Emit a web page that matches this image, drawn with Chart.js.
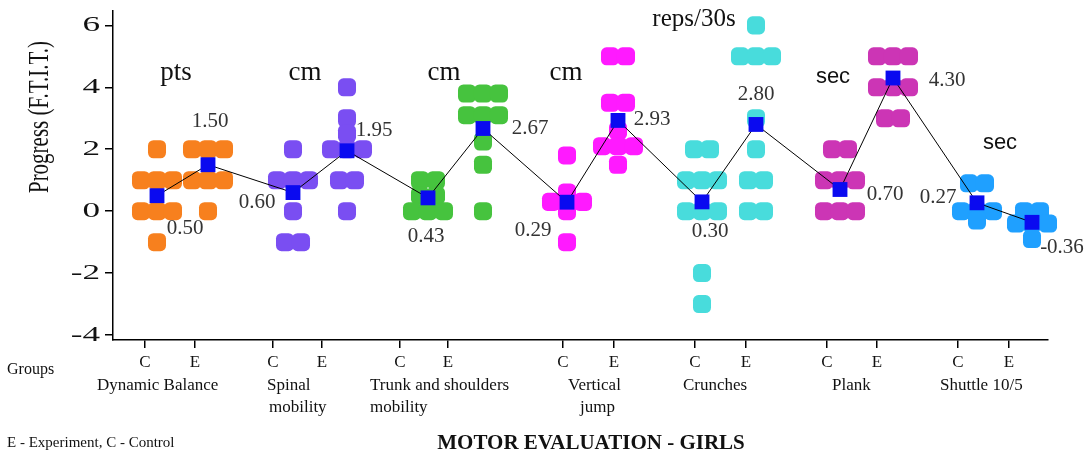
<!DOCTYPE html>
<html lang="en">
<head>
  <meta charset="UTF-8">
  <title>Motor Evaluation - Girls</title>
  <script src="https://cdn.jsdelivr.net/npm/chart.js"></script>
  <style>
    html, body { margin: 0; padding: 0; background: #fff; }
  </style>
</head>
<body>
  <canvas id="motorChart" width="1086" height="457"></canvas>

  <script>
    // Tests and their units
    const groupNames = [['Dynamic Balance'], ['Spinal', 'mobility'], ['Trunk and shoulders', 'mobility'],
                        ['Vertical', 'jump'], ['Crunches'], ['Plank'], ['Shuttle 10/5']];
    const groupUnits = ['pts', 'cm', 'cm', 'cm', 'reps/30s', 'sec', 'sec'];

    // Individual progress values (F.T.I.T.), control groups
    const ctrlScores = [
      [2, 1, 1, 1, 0, 0, 0, -1],
      [2, 1, 1, 1, 0, -1, -1],
      [1, 1, 0.5, 0.5, 0, 0, 0],
      [1.8, 0.6, 0.3, 0.3, 0.3, 0, -1],
      [2, 2, 1, 1, 1, 0, 0, 0, -2, -3],
      [2, 2, 1, 1, 1, 0, 0, 0],
      [0.9, 0.9, 0, 0, 0, -0.3]
    ];
    // Individual progress values, experiment groups
    const expScores = [
      [2, 2, 2, 1, 1, 1, 0],
      [4, 3, 2.5, 2, 2, 2, 1, 1, 0],
      [3.8, 3.8, 3.8, 3.1, 3.1, 3.1, 2.25, 1.5, 0],
      [5, 5, 3.5, 3.5, 2.6, 2.1, 2.1, 2.1, 1.5],
      [6, 5, 5, 5, 3, 2, 1, 1, 0, 0],
      [5, 5, 5, 4, 4, 4, 3, 3],
      [0, 0, -0.4, -0.4, -0.4, -0.9]
    ];
    const ctrlMeans = [0.50, 0.60, 0.43, 0.29, 0.30, 0.70, 0.27];
    const expMeans = [1.50, 1.95, 2.67, 2.93, 2.80, 4.30, -0.36];

    // x axis values of the C / E columns and of their ticks (the figure is not evenly spaced)
    const ctrlX = [0.88, 3.60, 6.30, 9.08, 11.78, 14.54, 17.28];
    const expX = [1.90, 4.68, 7.40, 10.10, 12.86, 15.60, 18.38];
    const ctrlTickX = [0.64, 3.20, 5.74, 9.00, 11.64, 14.28, 16.90];
    const expTickX = [1.64, 4.18, 6.70, 10.02, 12.66, 15.28, 17.92];
    const yTickValues = [-4, -2, 0, 2, 4, 6];

    const groupColors = ['#f7801e', '#7a4ef2', '#46c33e', '#ff1aff', '#48dcdc', '#cc35b5', '#1fa0ff'];
    const SERIF = "'Liberation Serif', 'Times New Roman', serif";
    const DOT_STEP = 0.32; // horizontal step between dots sharing a value

    // spread dots with the same value side by side around the column
    function dotRow(values, x0) {
      const counts = {};
      values.forEach(v => { counts[v] = (counts[v] || 0) + 1; });
      const seen = {};
      return values.map(v => {
        const i = seen[v] = (seen[v] === undefined ? 0 : seen[v] + 1);
        return { x: x0 + (i - (counts[v] - 1) / 2) * DOT_STEP, y: v };
      });
    }

    const meanPoints = [];
    ctrlMeans.forEach((m, i) => {
      meanPoints.push({ x: ctrlX[i], y: m });
      meanPoints.push({ x: expX[i], y: expMeans[i] });
    });

    const dotSets = groupColors.map((col, i) => ({
      data: dotRow(ctrlScores[i], ctrlX[i]).concat(dotRow(expScores[i], expX[i])),
      backgroundColor: col,
      borderWidth: 0,
      pointStyle: 'rectRounded',
      pointRadius: 10.5,
      showLine: false,
      clip: false,
      order: 1
    }));

    function drawText(ctx, s, x, y, font, color, align, sx) {
      ctx.save();
      ctx.font = font;
      ctx.fillStyle = color;
      ctx.textAlign = align || 'left';
      ctx.textBaseline = 'middle';
      ctx.translate(x, y);
      ctx.scale(sx || 1, 1);
      ctx.fillText(s, 0, 0);
      ctx.restore();
    }

    // text around the plot: y tick labels, units, means, group names, captions
    const annotations = {
      id: 'annotations',
      afterDraw(chart) {
        const ctx = chart.ctx;
        const xs = chart.scales.x, ys = chart.scales.y;

        yTickValues.forEach(v => {
          drawText(ctx, String(v), 100, ys.getPixelForValue(v), '22px ' + SERIF, '#111', 'right', 1.6);
        });

        ctx.save();
        ctx.translate(40, 117);
        ctx.scale(1.4, 1);
        ctx.rotate(-Math.PI / 2);
        ctx.font = '21px ' + SERIF;
        ctx.fillStyle = '#111';
        ctx.textAlign = 'center';
        ctx.textBaseline = 'middle';
        ctx.fillText('Progress (F.T.I.T.)', 0, 0);
        ctx.restore();

        // units above each test
        const unitAt = [[1.26, 4.48], [3.84, 4.48], [6.62, 4.48], [9.06, 4.48], [11.62, 6.2], [14.40, 4.35], [17.74, 2.2]];
        groupUnits.forEach((u, i) => {
          const px = xs.getPixelForValue(unitAt[i][0]), py = ys.getPixelForValue(unitAt[i][1]);
          if (u === 'sec') drawText(ctx, u, px, py, "22px 'Liberation Sans', Arial, sans-serif", '#111', 'center');
          else drawText(ctx, u, px, py, (u === 'pts' || u === 'cm' ? '27px ' : '25px ') + SERIF, '#111', 'center');
        });

        // mean value labels
        const ctrlOff = [[28, 33], [-36, 10], [-2, 39], [-34, 28], [8, 30], [45, 5], [-39, -5]];
        const expOff = [[2, -43], [27, -20], [47, 0], [34, -1], [0, -30], [54, 2], [30, 25]];
        ctrlMeans.forEach((m, i) => {
          drawText(ctx, m.toFixed(2), xs.getPixelForValue(ctrlX[i]) + ctrlOff[i][0],
                   ys.getPixelForValue(m) + ctrlOff[i][1], '21px ' + SERIF, '#333', 'center');
          const e = expMeans[i];
          drawText(ctx, e.toFixed(2), xs.getPixelForValue(expX[i]) + expOff[i][0],
                   ys.getPixelForValue(e) + expOff[i][1], '21px ' + SERIF, '#333', 'center');
        });

        // group names under the axis
        const nameDx = [[-48], [-6, -4], [-30, -30], [5, 17], [-12], [5], [-18]];
        groupNames.forEach((lines, i) => {
          const base = xs.getPixelForValue(ctrlTickX[i]);
          lines.forEach((ln, j) => {
            drawText(ctx, ln, base + nameDx[i][j], 386 + j * 22, '17px ' + SERIF, '#111', 'left');
          });
        });

        drawText(ctx, 'Groups', 7, 370, '16px ' + SERIF, '#111', 'left');
        drawText(ctx, 'E - Experiment, C - Control', 7, 443, '15px ' + SERIF, '#111', 'left');
        drawText(ctx, 'MOTOR EVALUATION - GIRLS', 591, 444, 'bold 21px ' + SERIF, '#111', 'center');
      }
    };

    new Chart(document.getElementById('motorChart'), {
      type: 'scatter',
      data: {
        datasets: [{
          data: meanPoints,
          showLine: true,
          borderColor: '#000',
          borderWidth: 1,
          backgroundColor: '#0a0af0',
          pointBackgroundColor: '#0a0af0',
          pointBorderWidth: 0,
          pointStyle: 'rect',
          pointRadius: 10.5,
          clip: false,
          order: 0
        }].concat(dotSets)
      },
      options: {
        responsive: false,
        animation: false,
        layout: { padding: { left: 113, right: 38, top: 10, bottom: 0 } },
        plugins: { legend: { display: false }, tooltip: { enabled: false } },
        scales: {
          x: {
            type: 'linear',
            min: 0,
            max: 18.7,
            afterBuildTicks: s => {
              const t = [];
              ctrlTickX.forEach((v, i) => { t.push({ value: v }, { value: expTickX[i] }); });
              s.ticks = t;
            },
            afterFit: s => { s.height = 117; },
            border: { color: '#000', width: 1.5 },
            grid: { drawOnChartArea: false, drawTicks: true, tickLength: 8, color: '#000', lineWidth: 1.5 },
            ticks: {
              callback: (v, i) => (i % 2 ? 'E' : 'C'),
              autoSkip: false,
              maxRotation: 0,
              padding: 4,
              color: '#111',
              font: { family: SERIF, size: 17 }
            }
          },
          y: {
            min: -4.16,
            max: 6.48,
            afterBuildTicks: s => { s.ticks = yTickValues.map(v => ({ value: v })); },
            afterFit: s => { s.width = 0; },
            border: { color: '#000', width: 1.5 },
            grid: { drawOnChartArea: false, drawTicks: true, tickLength: 8, color: '#000', lineWidth: 1.5 },
            ticks: { display: false }
          }
        }
      },
      plugins: [annotations]
    });
  </script>
</body>
</html>
